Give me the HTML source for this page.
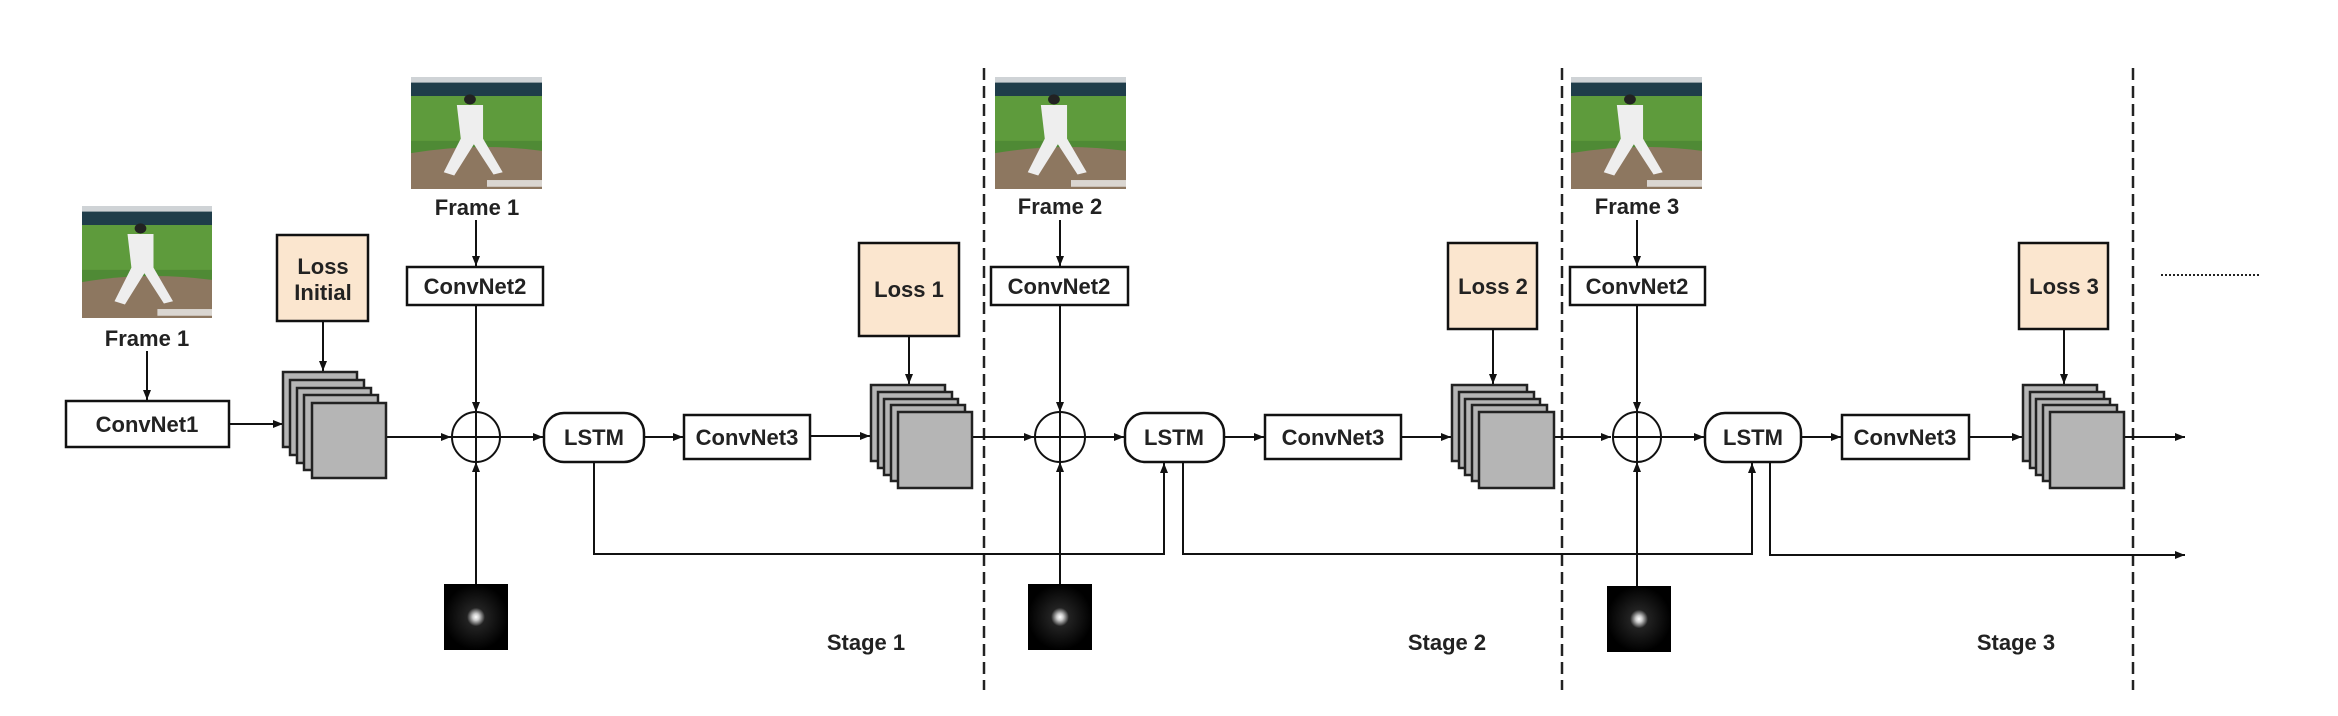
<!DOCTYPE html>
<html><head><meta charset="utf-8"><style>
html,body{margin:0;padding:0;background:#fff;}
svg{display:block;}
text{font-family:"Liberation Sans",sans-serif;font-weight:bold;fill:#222;}
</style></head><body>
<svg width="2338" height="716" viewBox="0 0 2338 716" xmlns="http://www.w3.org/2000/svg">
<defs>
<marker id="a" markerWidth="10" markerHeight="8" refX="10" refY="4" orient="auto" markerUnits="userSpaceOnUse"><path d="M0,0 L10,4 L0,8 z" fill="#111"/></marker>
<radialGradient id="g" cx="50%" cy="50%" r="50%"><stop offset="0" stop-color="#fff"/><stop offset="0.1" stop-color="#ccc"/><stop offset="0.28" stop-color="#222"/><stop offset="1" stop-color="#000"/></radialGradient>
<g id="photo">
<rect x="0" y="0" width="1" height="1" fill="#4f8a35"/>
<rect x="0" y="0" width="1" height="0.08" fill="#cfd3d6"/>
<rect x="0" y="0.05" width="1" height="0.12" fill="#1f3d4a"/>
<rect x="0" y="0.17" width="1" height="0.4" fill="#5e9b3c"/>
<path d="M0,0.68 Q0.5,0.58 1,0.66 L1,1 L0,1 z" fill="#8d7760"/>
<path d="M0.35,0.25 L0.55,0.25 L0.55,0.55 L0.7,0.85 L0.63,0.87 L0.48,0.6 L0.33,0.88 L0.25,0.85 L0.38,0.55 z" fill="#eeeeee"/>
<circle cx="0.45" cy="0.2" r="0.045" fill="#222"/>
<rect x="0.58" y="0.92" width="0.42" height="0.06" fill="#eee" opacity="0.8"/>
</g>
</defs>

<use href="#photo" transform="translate(82,206) scale(130,112)"/>
<use href="#photo" transform="translate(411,77) scale(131,112)"/>
<use href="#photo" transform="translate(995,77) scale(131,112)"/>
<use href="#photo" transform="translate(1571,77) scale(131,112)"/>

<g font-size="22" text-anchor="middle">
<text x="147" y="346">Frame 1</text>
<text x="477" y="215">Frame 1</text>
<text x="1060" y="214">Frame 2</text>
<text x="1637" y="214">Frame 3</text>
</g>

<g stroke="#222" stroke-width="2.5" stroke-dasharray="12,6">
<line x1="984" y1="68" x2="984" y2="690"/>
<line x1="1562" y1="68" x2="1562" y2="690"/>
<line x1="2133" y1="68" x2="2133" y2="690"/>
</g>
<line x1="2161" y1="275" x2="2260" y2="275" stroke="#222" stroke-width="2" stroke-dasharray="2,2"/>

<g stroke="#111" stroke-width="2" fill="none">
<line x1="147" y1="351" x2="147" y2="400" marker-end="url(#a)"/>
<line x1="229" y1="424" x2="283" y2="424" marker-end="url(#a)"/>
<line x1="323" y1="321" x2="323" y2="371" marker-end="url(#a)"/>
<line x1="476" y1="220" x2="476" y2="266" marker-end="url(#a)"/>
<line x1="1060" y1="220" x2="1060" y2="266" marker-end="url(#a)"/>
<line x1="1637" y1="220" x2="1637" y2="266" marker-end="url(#a)"/>
<line x1="476" y1="305" x2="476" y2="412" marker-end="url(#a)"/>
<line x1="1060" y1="305" x2="1060" y2="412" marker-end="url(#a)"/>
<line x1="1637" y1="305" x2="1637" y2="412" marker-end="url(#a)"/>
<line x1="476" y1="584" x2="476" y2="462" marker-end="url(#a)"/>
<line x1="1060" y1="584" x2="1060" y2="462" marker-end="url(#a)"/>
<line x1="1637" y1="586" x2="1637" y2="462" marker-end="url(#a)"/>
<line x1="386" y1="437" x2="451" y2="437" marker-end="url(#a)"/>
<line x1="500" y1="437" x2="543" y2="437" marker-end="url(#a)"/>
<line x1="644" y1="437" x2="683" y2="437" marker-end="url(#a)"/>
<line x1="810" y1="436" x2="870" y2="436" marker-end="url(#a)"/>
<line x1="972" y1="437" x2="1034" y2="437" marker-end="url(#a)"/>
<line x1="1085" y1="437" x2="1124" y2="437" marker-end="url(#a)"/>
<line x1="1224" y1="437" x2="1264" y2="437" marker-end="url(#a)"/>
<line x1="1401" y1="437" x2="1451" y2="437" marker-end="url(#a)"/>
<line x1="1554" y1="437" x2="1611" y2="437" marker-end="url(#a)"/>
<line x1="1662" y1="437" x2="1704" y2="437" marker-end="url(#a)"/>
<line x1="1801" y1="437" x2="1841" y2="437" marker-end="url(#a)"/>
<line x1="1969" y1="437" x2="2022" y2="437" marker-end="url(#a)"/>
<line x1="2124" y1="437" x2="2185" y2="437" marker-end="url(#a)"/>
<line x1="909" y1="336" x2="909" y2="384" marker-end="url(#a)"/>
<line x1="1493" y1="329" x2="1493" y2="384" marker-end="url(#a)"/>
<line x1="2064" y1="329" x2="2064" y2="384" marker-end="url(#a)"/>
<polyline points="594,462 594,554 1164,554 1164,463" marker-end="url(#a)"/>
<polyline points="1183,462 1183,554 1752,554 1752,463" marker-end="url(#a)"/>
<polyline points="1770,462 1770,555 2185,555" marker-end="url(#a)"/>
</g>

<g stroke="#111" stroke-width="2" fill="none">
<ellipse cx="476" cy="437" rx="24" ry="25"/>
<ellipse cx="1060" cy="437" rx="25" ry="25"/>
<ellipse cx="1637" cy="437" rx="24" ry="25"/>
<line x1="452" y1="437" x2="500" y2="437"/><line x1="476" y1="412" x2="476" y2="462"/>
<line x1="1035" y1="437" x2="1085" y2="437"/><line x1="1060" y1="412" x2="1060" y2="462"/>
<line x1="1613" y1="437" x2="1661" y2="437"/><line x1="1637" y1="412" x2="1637" y2="462"/>
</g>

<g stroke="#111" stroke-width="2.5">
<rect x="66" y="401" width="163" height="46" fill="#fff"/>
<rect x="407" y="267" width="136" height="38" fill="#fff"/>
<rect x="991" y="267" width="137" height="38" fill="#fff"/>
<rect x="1570" y="267" width="135" height="38" fill="#fff"/>
<rect x="684" y="415" width="126" height="44" fill="#fff"/>
<rect x="1265" y="415" width="136" height="44" fill="#fff"/>
<rect x="1842" y="415" width="127" height="44" fill="#fff"/>
<rect x="544" y="413" width="100" height="49" rx="20" fill="#fff"/>
<rect x="1125" y="413" width="99" height="49" rx="20" fill="#fff"/>
<rect x="1705" y="413" width="96" height="49" rx="20" fill="#fff"/>
<rect x="277" y="235" width="91" height="86" fill="#fbe6cf"/>
<rect x="859" y="243" width="100" height="93" fill="#fbe6cf"/>
<rect x="1448" y="243" width="89" height="86" fill="#fbe6cf"/>
<rect x="2019" y="243" width="89" height="86" fill="#fbe6cf"/>
</g>

<g stroke="#222" stroke-width="2.5" fill="#b5b5b5">
<rect x="283" y="372" width="74" height="75"/><rect x="290" y="380" width="74" height="75"/><rect x="297" y="388" width="74" height="75"/><rect x="304" y="395" width="74" height="75"/><rect x="312" y="403" width="74" height="75"/>
<rect x="871" y="385" width="74" height="76"/><rect x="878" y="392" width="74" height="76"/><rect x="884" y="399" width="74" height="76"/><rect x="891" y="405" width="74" height="76"/><rect x="898" y="412" width="74" height="76"/>
<rect x="1452" y="385" width="75" height="76"/><rect x="1459" y="392" width="75" height="76"/><rect x="1465" y="399" width="75" height="76"/><rect x="1472" y="405" width="75" height="76"/><rect x="1479" y="412" width="75" height="76"/>
<rect x="2023" y="385" width="74" height="76"/><rect x="2030" y="392" width="74" height="76"/><rect x="2036" y="399" width="74" height="76"/><rect x="2043" y="405" width="74" height="76"/><rect x="2050" y="412" width="74" height="76"/>
</g>

<rect x="444" y="584" width="64" height="66" fill="url(#g)"/>
<rect x="1028" y="584" width="64" height="66" fill="url(#g)"/>
<rect x="1607" y="586" width="64" height="66" fill="url(#g)"/>

<g font-size="22" text-anchor="middle">
<text x="147" y="432">ConvNet1</text>
<text x="475" y="294">ConvNet2</text>
<text x="1059" y="294">ConvNet2</text>
<text x="1637" y="294">ConvNet2</text>
<text x="594" y="445">LSTM</text>
<text x="1174" y="445">LSTM</text>
<text x="1753" y="445">LSTM</text>
<text x="747" y="445">ConvNet3</text>
<text x="1333" y="445">ConvNet3</text>
<text x="1905" y="445">ConvNet3</text>
<text x="323" y="274">Loss</text>
<text x="323" y="300">Initial</text>
<text x="909" y="297">Loss 1</text>
<text x="1493" y="294">Loss 2</text>
<text x="2064" y="294">Loss 3</text>
<text x="866" y="650">Stage 1</text>
<text x="1447" y="650">Stage 2</text>
<text x="2016" y="650">Stage 3</text>
</g>
</svg>
</body></html>
